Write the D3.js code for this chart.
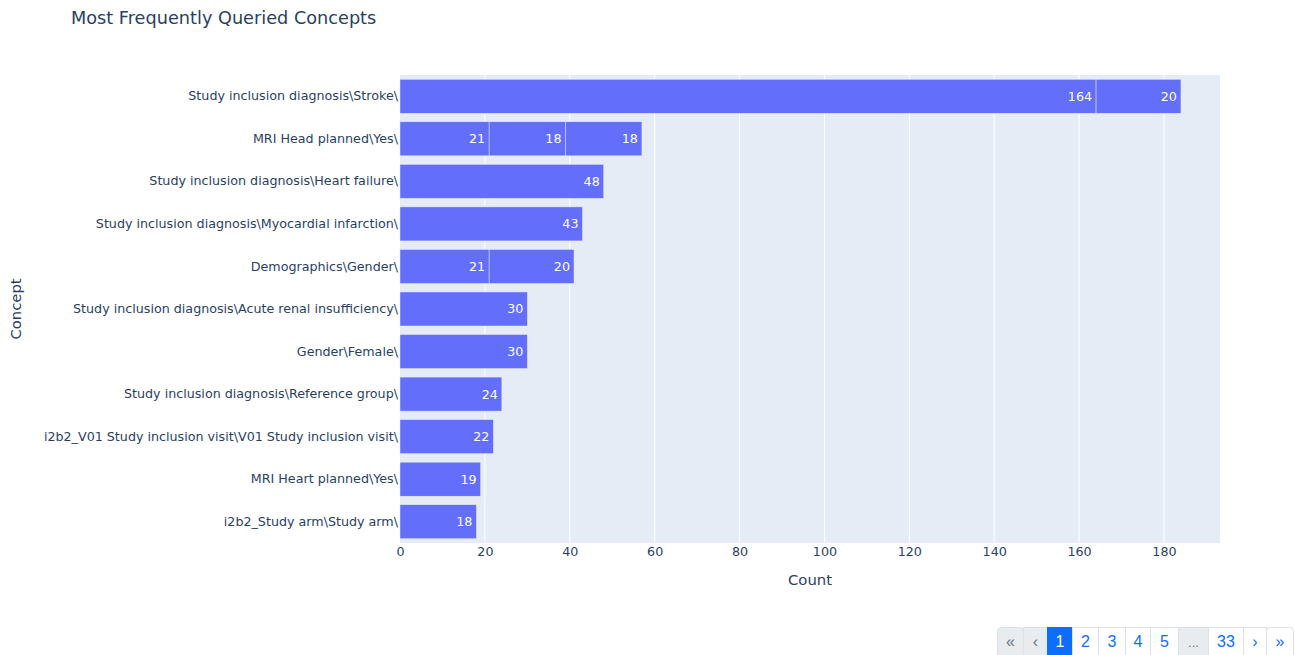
<!DOCTYPE html>
<html>
<head>
<meta charset="utf-8">
<script src="https://cdn.jsdelivr.net/npm/d3@7"></script>
<style>
  body { margin: 0; background: #fff; }
  svg { display: block; font-family: "DejaVu Sans", verdana, arial, sans-serif; }
</style>
</head>
<body>
<svg id="chart" width="1295" height="655"></svg>
<script>
// concepts, top to bottom
const concepts = [
    "Study inclusion diagnosis\\Stroke\\",
    "MRI Head planned\\Yes\\",
    "Study inclusion diagnosis\\Heart failure\\",
    "Study inclusion diagnosis\\Myocardial infarction\\",
    "Demographics\\Gender\\",
    "Study inclusion diagnosis\\Acute renal insufficiency\\",
    "Gender\\Female\\",
    "Study inclusion diagnosis\\Reference group\\",
    "i2b2_V01 Study inclusion visit\\V01 Study inclusion visit\\",
    "MRI Heart planned\\Yes\\",
    "i2b2_Study arm\\Study arm\\"
];
// stacked pieces of each bar, left to right
const counts = [
    [164, 20],
    [21, 18, 18],
    [48],
    [43],
    [21, 20],
    [30],
    [30],
    [24],
    [22],
    [19],
    [18]
];
const xTicks = [0, 20, 40, 60, 80, 100, 120, 140, 160, 180];
const pages = ["«", "‹", "1", "2", "3", "4", "5", "...", "33", "›", "»"];
const pageWidths = [26, 24, 25, 26, 27, 25, 28, 30, 35, 23, 27];

const svg = d3.select("#chart");
const plotLeft = 400, plotRight = 1220, plotTop = 75, plotBottom = 543;
const textColor = "#2a3f5f";
const tickSize = 12.7;

let maxTotal = d3.max(counts, function (d) { return d3.sum(d); });
let x = d3.scaleLinear().domain([0, maxTotal * 1.05]).range([plotLeft, plotRight]);
let y = d3.scaleBand().domain(concepts).range([plotTop, plotBottom]).paddingInner(0.2).paddingOuter(0.1);

//background
svg.append("rect")
    .attr("x", plotLeft).attr("y", plotTop)
    .attr("width", plotRight - plotLeft).attr("height", plotBottom - plotTop)
    .attr("fill", "#E5ECF6");

//grid
svg.append("g").selectAll("line")
    .data(xTicks.slice(1))
    .enter()
    .append("line")
    .attr("x1", function (d) { return x(d); })
    .attr("x2", function (d) { return x(d); })
    .attr("y1", plotTop).attr("y2", plotBottom)
    .attr("stroke", "#fff").attr("stroke-width", 1);

//bars, flattened into pieces
let pieces = [];
concepts.forEach(function (c, i) {
    let start = 0;
    counts[i].forEach(function (v) {
        pieces.push({concept: c, x0: start, x1: start + v, value: v});
        start += v;
    });
});

let barG = svg.append("g");
barG.selectAll("rect")
    .data(pieces)
    .enter()
    .append("rect")
    .attr("x", function (d) { return x(d.x0); })
    .attr("y", function (d) { return y(d.concept); })
    .attr("width", function (d) { return x(d.x1) - x(d.x0); })
    .attr("height", y.bandwidth())
    .attr("fill", "#636efa")
    .attr("stroke", "#E5ECF6")
    .attr("stroke-width", 0.5);

barG.selectAll("text")
    .data(pieces)
    .enter()
    .append("text")
    .attr("x", function (d) { return x(d.x1) - 4; })
    .attr("y", function (d) { return y(d.concept) + y.bandwidth() / 2; })
    .attr("dy", ".35em")
    .attr("text-anchor", "end")
    .attr("font-size", tickSize)
    .attr("fill", "#fff")
    .text(function (d) { return d.value; });

//axes
let xAxis = svg.append("g")
    .attr("transform", "translate(0," + plotBottom + ")")
    .call(d3.axisBottom(x).tickValues(xTicks).tickSize(0).tickPadding(4));
xAxis.select(".domain").remove();
xAxis.selectAll("text").attr("font-size", tickSize).attr("fill", textColor);
xAxis.attr("font-family", null);

let yAxis = svg.append("g")
    .attr("transform", "translate(" + plotLeft + ",0)")
    .call(d3.axisLeft(y).tickSize(0).tickPadding(2));
yAxis.select(".domain").remove();
yAxis.selectAll("text").attr("font-size", tickSize).attr("fill", textColor);
yAxis.attr("font-family", null);

//titles
svg.append("text")
    .attr("x", 71).attr("y", 24)
    .attr("font-size", 17.7).attr("fill", textColor)
    .text("Most Frequently Queried Concepts");

svg.append("text")
    .attr("x", (plotLeft + plotRight) / 2).attr("y", 585)
    .attr("text-anchor", "middle")
    .attr("font-size", 14.8).attr("fill", textColor)
    .text("Count");

svg.append("text")
    .attr("transform", "translate(21," + (plotTop + plotBottom) / 2 + ") rotate(-90)")
    .attr("text-anchor", "middle")
    .attr("font-size", 14.8).attr("fill", textColor)
    .text("Concept");

//pagination
let pageG = svg.append("g").attr("font-family", "Helvetica, Arial, 'Liberation Sans', sans-serif");
let px = 997;
pages.forEach(function (p, i) {
    let w = pageWidths[i];
    let active = p === "1";
    let disabled = i < 2 || p === "...";
    let g = pageG.append("g").attr("transform", "translate(" + px + ",627)");
    g.append("rect")
        .attr("x", 0.5).attr("y", 0.5)
        .attr("width", w).attr("height", 38)
        .attr("rx", (i === 0 || i === pages.length - 1) ? 4 : 0)
        .attr("fill", active ? "#0d6efd" : (disabled ? "#e9ecef" : "#fff"))
        .attr("stroke", active ? "#0d6efd" : "#dee2e6");
    g.append("text")
        .attr("x", w / 2 + 0.5).attr("y", 20)
        .attr("text-anchor", "middle")
        .attr("font-size", p === "..." ? 13 : 16)
        .attr("fill", active ? "#fff" : (disabled ? "#6c757d" : "#0d6efd"))
        .text(p);
    px += w;
});
</script>
</body>
</html>
